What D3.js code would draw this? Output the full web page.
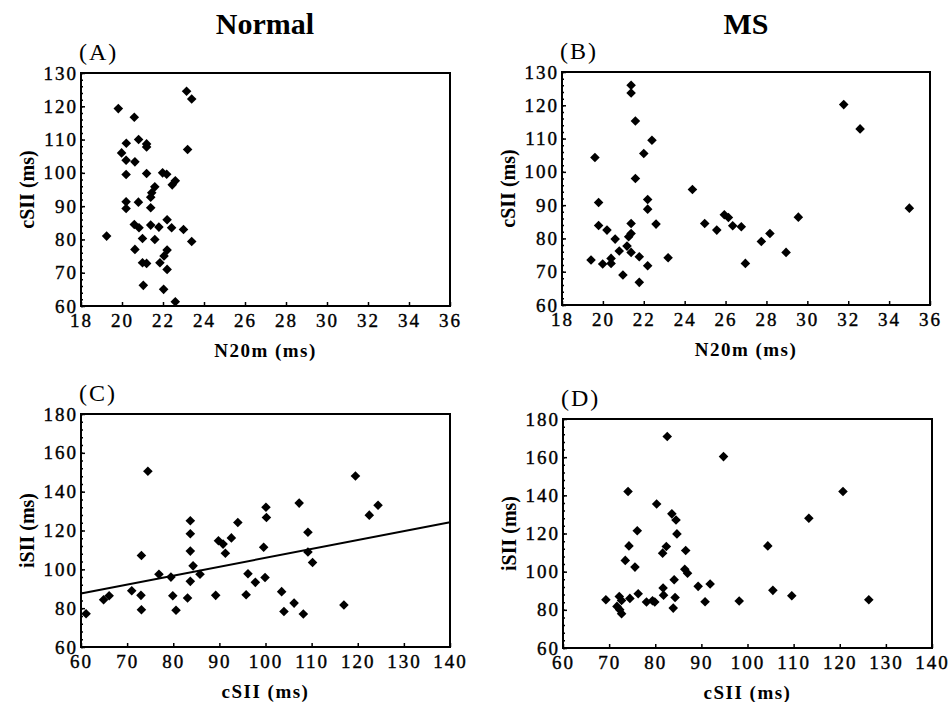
<!DOCTYPE html>
<html>
  <head>
    <script src="https://d3js.org/d3.v7.min.js"></script>
    <style>
      body { margin: 0; background: #fff; }
      .axis .tick text {
        font-family: "Liberation Serif", serif;
        font-size: 19px;
        letter-spacing: 2px;
        fill: #000;
        stroke: #000;
        stroke-width: 0.4px;
      }
      .axis .tick line { stroke: #000; stroke-width: 1.5px; }
      .axis .domain { display: none; }
      .frame { fill: none; stroke: #000; stroke-width: 2px; }
      .xlabel, .ylabel {
        font-family: "Liberation Serif", serif;
        font-weight: bold;
        text-anchor: middle;
      }
      .xlabel { font-size: 19px; letter-spacing: 1.5px; }
      .ylabel { font-size: 20px; }
      .title {
        font-family: "Liberation Serif", serif;
        font-weight: bold;
        font-size: 30px;
        text-anchor: middle;
      }
      .tag {
        font-family: "Liberation Serif", serif;
        font-size: 24px;
        letter-spacing: 2px;
      }
    </style>
  </head>
  <body>
    <svg width="951" height="702"></svg>
    <script>
      // (A) Normal: N20m vs cSII
      const normalN20m = [19.25, 19.82, 20.6, 20.21, 20.81, 21.2, 21.2, 19.98, 20.2, 20.63,
        20.2, 21.2, 21.98, 22.18, 22.6, 22.45, 21.6, 21.45, 21.4, 23.2,
        23.15, 23.4, 20.2, 20.2, 20.8, 21.4, 20.6, 20.83, 21.4, 21.8,
        22.2, 22.42, 23.0, 23.4, 21.0, 21.6, 20.63, 22.2, 22.05, 21.85,
        21.0, 21.2, 22.2, 21.04, 22.03, 22.6];
      const normalCSII = [81, 119.3, 116.7, 108.9, 110, 108.7, 107.8, 106, 103.8, 103.3,
        99.5, 99.8, 100, 99.6, 97.6, 96.4, 95.8, 94, 92.7, 107,
        124.5, 122.2, 91.3, 89.3, 91.2, 89.5, 84.5, 83.5, 84.3, 83.7,
        85.9, 83.5, 83, 79.4, 80.3, 80, 77, 76.8, 75, 73,
        73, 72.8, 71, 66.2, 65, 61.3];

      // (B) MS: N20m vs cSII
      const msN20m = [19.42, 19.61, 19.79, 19.79, 19.99, 20.2, 20.4, 20.4, 20.6, 20.8,
        20.98, 21.18, 21.26, 21.38, 21.38, 21.38, 21.38, 21.38, 21.59, 21.59,
        21.78, 21.78, 22.0, 22.19, 22.19, 22.19, 22.4, 22.6, 23.19, 24.38,
        24.98, 25.57, 25.94, 26.14, 26.35, 26.77, 26.97, 27.75, 28.17, 28.96,
        29.56, 31.78, 32.58, 34.99];
      const msCSII = [73.5, 104.3, 90.8, 83.9, 72.3, 82.5, 74, 72.5, 79.8, 76.2,
        69, 77.7, 80.5, 81.5, 84.5, 75.8, 126, 123.7, 115.3, 98,
        74.5, 66.8, 105.5, 91.7, 88.8, 71.8, 109.5, 84.3, 74.2, 94.7,
        84.5, 82.5, 87.1, 86.3, 83.8, 83.5, 72.5, 79.1, 81.5, 75.8,
        86.4, 120.2, 112.9, 89.1];

      // (C) Normal: cSII vs iSII, with fitted line
      const normalCSIIc = [61.1, 64.9, 66.1, 71.0, 73.0, 73.1, 73.1, 74.5, 76.9, 79.5,
        79.9, 80.6, 83.1, 83.7, 83.7, 83.7, 83.7, 84.3, 85.8, 89.2,
        89.8, 90.8, 91.3, 92.6, 94.0, 95.8, 96.2, 97.8, 99.6, 99.9,
        100.1, 100.2, 103.5, 104.0, 106.2, 107.3, 108.2, 109.2, 109.2, 110.2,
        117.0, 119.5, 122.5, 124.4];
      const normalISII = [77.1, 84.3, 86.4, 89, 86.6, 107.1, 79.2, 150.5, 97.5, 96,
        86.4, 78.9, 85.2, 125, 118.3, 109.4, 93.8, 101.8, 97.5, 86.6,
        114.7, 113, 108.3, 116.2, 124.1, 86.9, 97.7, 93.3, 111.4, 95.8,
        132, 126.7, 88.5, 78.3, 82.6, 134.1, 77, 119.1, 108.9, 103.5,
        81.6, 148.1, 127.9, 133];
      const fitX = [60, 140];
      const fitY = [87.5, 124.3];

      // (D) MS: cSII vs iSII
      const msCSIId = [69.3, 71.7, 72.2, 72.7, 72.7, 72.3, 73.5, 74.1, 74.3, 74.5,
        75.6, 76.1, 76.3, 78.1, 79.4, 79.9, 80.3, 81.6, 82.4, 81.7,
        81.8, 82.6, 83.6, 84.5, 83.9, 84.1, 84.3, 84.7, 86.6, 86.4,
        87.0, 89.3, 90.8, 91.9, 94.8, 98.2, 104.4, 105.5, 109.6, 113.3,
        120.7, 126.3];
      const msISII = [85.3, 81.8, 87, 84.9, 78, 80.1, 105.9, 142, 113.5, 86,
        102.4, 121.4, 88.4, 84.1, 84.8, 84.1, 135.5, 109.7, 113.2, 91.4,
        87.7, 170.8, 130.3, 127.1, 80.9, 95.8, 86.5, 119.8, 111.1, 101.3,
        99.2, 92.3, 84.2, 93.5, 160.3, 84.6, 113.5, 90.2, 87.4, 128,
        142, 85.3];

      const n20Ticks = [18, 20, 22, 24, 26, 28, 30, 32, 34, 36];
      const csiiYTicks = [60, 70, 80, 90, 100, 110, 120, 130];
      const csiiXTicks = [60, 70, 80, 90, 100, 110, 120, 130, 140];
      const isiiTicks = [60, 80, 100, 120, 140, 160, 180];

      const svg = d3.select("svg");

      svg.append("text").attr("class", "title").attr("x", 265).attr("y", 34).text("Normal");
      svg.append("text").attr("class", "title").attr("x", 746).attr("y", 34).text("MS");

      const panels = [
        {tag: "(A)", box: [81, 450, 73, 306], xs: normalN20m, ys: normalCSII,
         xDom: [18, 36], yDom: [60, 130], xt: n20Ticks, yt: csiiYTicks,
         xl: "N20m (ms)", yl: "cSII (ms)"},
        {tag: "(B)", box: [562, 930, 72, 305], xs: msN20m, ys: msCSII,
         xDom: [18, 36], yDom: [60, 130], xt: n20Ticks, yt: csiiYTicks,
         xl: "N20m (ms)", yl: "cSII (ms)"},
        {tag: "(C)", box: [81, 450, 414, 647], xs: normalCSIIc, ys: normalISII,
         xDom: [60, 140], yDom: [60, 180], xt: csiiXTicks, yt: isiiTicks,
         xl: "cSII (ms)", yl: "iSII (ms)", fit: true},
        {tag: "(D)", box: [563, 932, 419, 648], xs: msCSIId, ys: msISII,
         xDom: [60, 140], yDom: [60, 180], xt: csiiXTicks, yt: isiiTicks,
         xl: "cSII (ms)", yl: "iSII (ms)"}
      ];

      const diamond = d3.symbol().type(d3.symbolSquare).size(46);

      panels.forEach(p => {
        const [l, r, t, b] = p.box;
        const x = d3.scaleLinear().domain(p.xDom).range([l, r]);
        const y = d3.scaleLinear().domain(p.yDom).range([b, t]);

        // minor ticks on left axis
        const yStep = p.yt[1] - p.yt[0];
        const minor = d3.range(p.yDom[0], p.yDom[1] + 0.001, yStep / 5);
        svg.append("g").attr("class", "axis")
          .attr("transform", `translate(${l},0)`)
          .call(d3.axisLeft(y).tickValues(minor).tickSize(-2).tickFormat(""));

        svg.append("g").attr("class", "axis")
          .attr("transform", `translate(${l},0)`)
          .call(d3.axisLeft(y).tickValues(p.yt).tickSizeInner(-4).tickSizeOuter(0).tickPadding(3));
        svg.append("g").attr("class", "axis")
          .attr("transform", `translate(0,${b})`)
          .call(d3.axisBottom(x).tickValues(p.xt).tickSizeInner(-4).tickSizeOuter(0).tickPadding(8));

        svg.append("rect").attr("class", "frame")
          .attr("x", l).attr("y", t).attr("width", r - l).attr("height", b - t);

        svg.append("text").attr("class", "tag")
          .attr("x", l - 2).attr("y", t - 13).text(p.tag);

        svg.append("text").attr("class", "xlabel")
          .attr("x", (l + r) / 2).attr("y", b + 51).text(p.xl);
        svg.append("text").attr("class", "ylabel")
          .attr("transform", `translate(${l - 47},${(t + b) / 2}) rotate(-90)`)
          .text(p.yl);

        if (p.fit) {
          svg.append("line")
            .attr("x1", x(fitX[0])).attr("y1", y(fitY[0]))
            .attr("x2", x(fitX[1])).attr("y2", y(fitY[1]))
            .attr("stroke", "#000").attr("stroke-width", 2);
        }

        svg.append("g").selectAll("path")
          .data(d3.zip(p.xs, p.ys))
          .join("path")
            .attr("d", diamond)
            .attr("transform", d => `translate(${x(d[0])},${y(d[1])}) rotate(45)`)
            .attr("fill", "#000");
      });
    </script>
  </body>
</html>
